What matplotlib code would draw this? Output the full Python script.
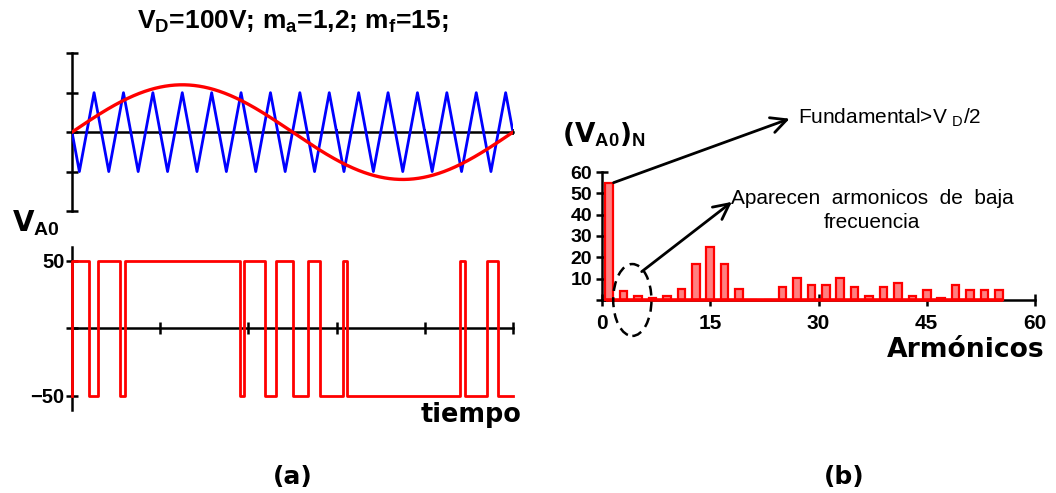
import numpy as np
import matplotlib
matplotlib.use('Agg')
import matplotlib.pyplot as plt
from matplotlib.patches import Ellipse

plt.rcParams['font.family'] = ['Liberation Sans', 'DejaVu Sans']
plt.rcParams['mathtext.fontset'] = 'custom'
plt.rcParams['mathtext.rm'] = 'Liberation Sans'
plt.rcParams['mathtext.bf'] = 'Liberation Sans:bold'
plt.rcParams['axes.unicode_minus'] = True

# parametros del inversor
VD = 100
ma = 1.2
mf = 15

# conmutaciones de la salida (grados) y nivel tras cada una
switch_deg = [0, 14, 21, 39.5, 43.5, 137, 140.5, 157.5, 166.5, 180, 193,
              202.5, 221, 224.5, 316.5, 320.5, 339, 348]
switch_lvl = [50, -50, 50, -50, 50, -50, 50, -50, 50, -50, 50,
              -50, 50, -50, 50, -50, 50, -50]

# espectro: armonicos impares y amplitud
harm = list(range(1, 57, 2))
amp = [55, 4, 2, 1, 2, 5, 17, 25, 17, 5, 0, 0, 6, 10.5,
       7, 7, 10.5, 6, 2, 6, 8, 2, 4.5, 1, 7, 4.5, 4.5, 4.5]

heavy = dict(family=['DejaVu Sans'], weight='bold')

fig = plt.figure(figsize=(10.56, 4.93), dpi=100)


def ejes_cruzados(ax):
    for s in ['top', 'right']:
        ax.spines[s].set_visible(False)
    ax.spines['left'].set_position(('data', 0))
    ax.spines['bottom'].set_position(('data', 0))
    for s in ['left', 'bottom']:
        ax.spines[s].set_linewidth(1.8)
    ax.patch.set_visible(False)


# (a) arriba: moduladora y portadora
ax1 = fig.add_axes([0.0682, 0.572, 0.4176, 0.320])
t = np.linspace(0, 360, 3001)
moduladora = ma * np.sin(np.radians(t))
portadora = -(2 / np.pi) * np.arcsin(np.sin(np.radians(mf * t)))
ax1.plot(t, portadora, color='#0000ff', lw=2.0, zorder=3)
ax1.plot(t, moduladora, color='#ff0000', lw=2.4, zorder=4)
ax1.set_xlim(0, 360)
ax1.set_ylim(-2, 2)
ejes_cruzados(ax1)
ax1.set_yticks([-2, -1, 0, 1, 2])
ax1.set_yticklabels([])
ax1.set_xticks([72, 144, 216, 288, 360])
ax1.set_xticklabels([])
ax1.tick_params(axis='y', direction='inout', length=9, width=1.8)
ax1.tick_params(axis='x', direction='inout', length=5, width=1.2)

# (a) abajo: tension de salida
ax2 = fig.add_axes([0.0682, 0.1684, 0.4176, 0.3312])
xs = [0]
ys = [-switch_lvl[0]]
ends = switch_deg[1:] + [360]
for t0, t1, v in zip(switch_deg, ends, switch_lvl):
    xs += [t0, t1]
    ys += [v, v]
ax2.plot(xs, ys, color='#ff0000', lw=2.0, zorder=4, clip_on=False)
ax2.set_xlim(0, 360)
ax2.set_ylim(-60.5, 60.5)
ejes_cruzados(ax2)
ax2.set_yticks([-50, 0, 50])
ax2.set_yticklabels(['\u221250', '', '50'], fontsize=14.5, fontweight='bold')
ax2.set_xticks([72, 144, 216, 288, 360])
ax2.set_xticklabels([])
ax2.tick_params(axis='both', direction='inout', length=9, width=1.8, pad=1)

# (b) espectro
ax3 = fig.add_axes([0.5701, 0.3915, 0.4100, 0.2596])
ax3.bar(harm, amp, width=1.05, color='#ff8080', edgecolor='#ff0000',
        linewidth=1.6, zorder=3, clip_on=False)
ax3.plot([harm[0] - 0.5, harm[-1] + 0.5], [0, 0], color='#ff0000', lw=2.6,
         zorder=4, solid_capstyle='butt', clip_on=False)
ax3.set_xlim(0, 60)
ax3.set_ylim(0, 60)
ejes_cruzados(ax3)
ax3.set_yticks([0, 10, 20, 30, 40, 50, 60])
ax3.set_yticklabels(['', '10', '20', '30', '40', '50', '60'],
                    fontsize=14, fontweight='bold')
ax3.set_xticks([0, 15, 30, 45, 60])
ax3.set_xticklabels(['0', '15', '30', '45', '60'], fontsize=15, fontweight='bold')
ax3.tick_params(axis='both', direction='inout', length=8, width=1.8, pad=3)
ax3.tick_params(axis='x', pad=6)

flecha = dict(arrowstyle='->', lw=2.0, color='black', mutation_scale=28,
              shrinkA=0, shrinkB=0)
ax3.annotate('', xy=(26, 85), xytext=(harm[0] + 0.6, amp[0]),
             arrowprops=flecha, annotation_clip=False)
ax3.text(27.1, 85.5, 'Fundamental>V $_{\\mathregular{D}}$/2', fontsize=15,
         ha='left', va='center')
ax3.annotate('', xy=(18, 46), xytext=(5.5, 13.3),
             arrowprops=flecha, annotation_clip=False)
ax3.text(37.4, 42, 'Aparecen  armonicos  de  baja\nfrecuencia', fontsize=15,
         ha='center', va='center', multialignment='center', linespacing=1.3)
ax3.add_patch(Ellipse((4.2, 0), width=5.3, height=33.7, fill=False,
                      ls=(0, (4, 2.5)), lw=1.8, color='black', zorder=6,
                      clip_on=False))

W, H = 1056, 493
fig.text(293 / W, 1 - 22 / H, 'V$_{\\mathbf{D}}$=100V; m$_{\\mathbf{a}}$=1,2; m$_{\\mathbf{f}}$=15;',
         ha='center', va='center', fontsize=19, fontweight='bold')
fig.text(12 / W, 1 - 231 / H, 'V$_{\\mathbf{A0}}$', ha='left', va='baseline',
         fontsize=20, **heavy)
fig.text(562 / W, 1 - 143 / H, '(V$_{\\mathbf{A0}}$)$_{\\mathbf{N}}$', ha='left',
         va='baseline', fontsize=19, **heavy)
fig.text(471 / W, 1 - 422 / H, 'tiempo', ha='center', va='baseline',
         fontsize=18.4, **heavy)
fig.text(966 / W, 1 - 357 / H, 'Armónicos', ha='center', va='baseline',
         fontsize=19.2, **heavy)
fig.text(293 / W, 1 - 477 / H, '(a)', ha='center', va='center', fontsize=18, **heavy)
fig.text(844 / W, 1 - 477 / H, '(b)', ha='center', va='center', fontsize=18, **heavy)

fig.savefig('out.png', dpi=100)
